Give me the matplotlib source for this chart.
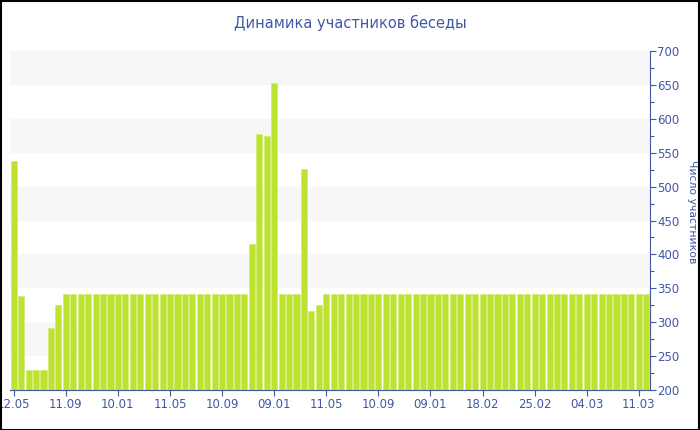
import matplotlib
matplotlib.use("Agg")
import matplotlib.pyplot as plt
from matplotlib.ticker import MultipleLocator
from matplotlib.patches import Rectangle

title = "Динамика участников беседы"
y_label = "Число участников"
tick_labels = ['12.05', '11.09', '10.01', '11.05', '10.09', '09.01', '11.05',
               '10.09', '09.01', '18.02', '25.02', '04.03', '11.03']
tick_step = 7

values = ([538, 338, 229, 229, 229, 292, 325] +
          [341] * 25 +
          [416, 578, 574, 653, 341, 341, 341, 526, 316, 326] +
          [341] * 44)

blue = '#4258a3'
bar_color = '#bde22f'

fig = plt.figure(figsize=(7, 4.3), dpi=100)
ax = fig.add_axes([0.0143, 0.093, 0.9143, 0.7884])

# alternating bands
for lo in range(250, 700, 100):
    ax.axhspan(lo, lo + 50, color='#f7f7f7', zorder=0, lw=0)

x = list(range(len(values)))
ax.bar(x, values, width=0.82, color=bar_color, edgecolor='#d3eb7c', linewidth=0.6, zorder=2)

ax.set_xlim(-0.5, len(values) - 0.5)
ax.set_ylim(200, 700)
ax.yaxis.tick_right()
ax.yaxis.set_label_position('right')
ax.yaxis.set_major_locator(MultipleLocator(50))
ax.yaxis.set_minor_locator(MultipleLocator(25))
ax.set_xticks(x[::tick_step][:len(tick_labels)])
ax.set_xticklabels(tick_labels)

for s in ['top', 'left']:
    ax.spines[s].set_visible(False)
ax.spines['right'].set_color(blue)
ax.spines['bottom'].set_color(blue)
ax.tick_params(axis='both', colors=blue, labelsize=8.5, length=4, width=0.8, pad=1)
ax.tick_params(axis='y', which='minor', colors=blue, length=3, width=0.8)
ax.tick_params(axis='x', pad=2)
for lbl in ax.get_xticklabels() + ax.get_yticklabels():
    lbl.set_color(blue)

ax.set_ylabel(y_label, color=blue, fontsize=7.8, rotation=270, labelpad=12)
ax.yaxis.set_label_coords(1.073, 0.525)
fig.text(0.5, 0.946, title, ha='center', va='center', color=blue, fontsize=10.5)

fig.patches.append(Rectangle((0.001, 0.001), 0.997, 0.997, transform=fig.transFigure,
                             fill=False, edgecolor='black', linewidth=1.5))

fig.savefig('out.png', dpi=100)
